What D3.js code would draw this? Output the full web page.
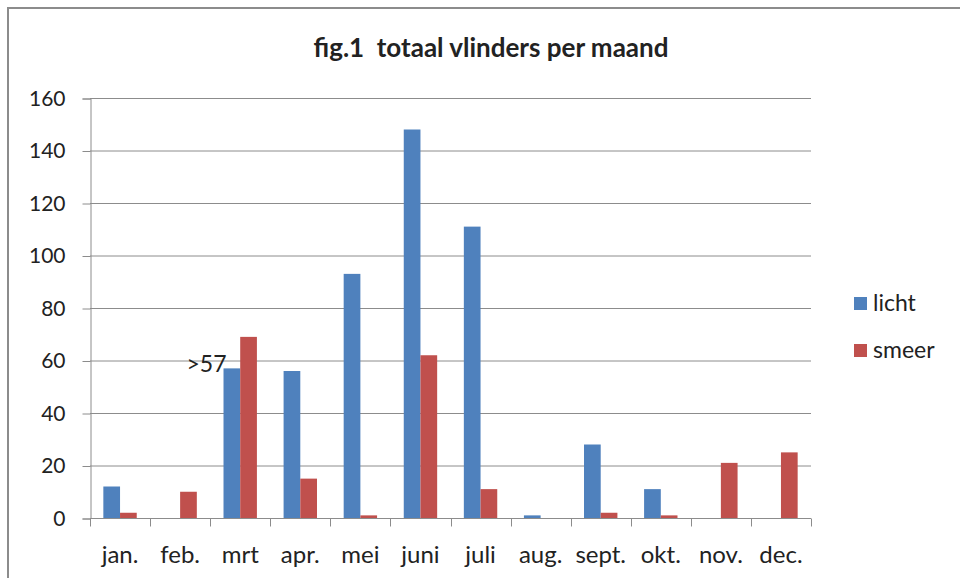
<!DOCTYPE html>
<html>
<head>
<meta charset="utf-8">
<script src="https://cdn.jsdelivr.net/npm/d3@7"></script>
<style>
  body { margin: 0; background: #fff; }
  text { font-family: Lato, "Open Sans", sans-serif; fill: #222; }
</style>
</head>
<body>
<div id="chart"></div>
<script>
(function() {

    // data
    let months = ["jan.", "feb.", "mrt", "apr.", "mei", "juni", "juli", "aug.", "sept.", "okt.", "nov.", "dec."];
    let licht = [12, 0, 57, 56, 93, 148, 111, 1, 28, 11, 0, 0];
    let smeer = [2, 10, 69, 15, 1, 62, 11, 0, 2, 1, 21, 25];
    let seriesNames = ["licht", "smeer"];
    let colors = ["#4F81BD", "#C0504D"];
    let yTicks = [0, 20, 40, 60, 80, 100, 120, 140, 160];

    let width = 960,
        height = 578;
    let plot = {left: 90, right: 811, top: 98, bottom: 518};

    let svg = d3.select("#chart")
        .append("svg")
        .attr("width", width)
        .attr("height", height);

    // outer border of the chart area (top + left visible)
    svg.append("path")
        .attr("d", `M8,${height} L8,8 L${width},8`)
        .attr("fill", "none")
        .attr("stroke", "#8c8c8c")
        .attr("stroke-width", 2);

    let x = d3.scaleBand()
        .domain(months)
        .range([plot.left, plot.right]);

    let bw = 16.7;
    let xs = d3.scaleBand()
        .domain(seriesNames)
        .range([x.bandwidth() / 2 - bw, x.bandwidth() / 2 + bw]);

    let y = d3.scaleLinear()
        .domain([0, 160])
        .range([plot.bottom, plot.top]);

    // gridlines
    svg.append("g")
        .selectAll("line")
        .data(yTicks.slice(1))
        .enter()
        .append("line")
        .attr("x1", plot.left)
        .attr("x2", plot.right)
        .attr("y1", d => y(d) + 0.5)
        .attr("y2", d => y(d) + 0.5)
        .attr("stroke", "#8c8c8c")
        .attr("stroke-width", 1);

    // y axis
    let yAxis = svg.append("g")
        .attr("transform", `translate(${plot.left + 0.5}, 0.5)`)
        .call(d3.axisLeft(y).tickValues(yTicks).tickSize(8).tickPadding(6));
    yAxis.select(".domain").attr("stroke", "#8c8c8c");
    yAxis.selectAll(".tick line").attr("stroke", "#8c8c8c");
    yAxis.selectAll(".tick text")
        .style("font-size", "21px")
        .attr("fill", "#222")
        .attr("x", -25);

    // bars
    let groups = svg.append("g")
        .selectAll("g")
        .data(months.map((m, i) => ({month: m, values: [licht[i], smeer[i]]})))
        .enter()
        .append("g")
        .attr("transform", d => `translate(${x(d.month)}, 0)`);

    groups.selectAll("rect")
        .data(d => d.values.map((v, j) => ({name: seriesNames[j], value: v, color: colors[j]})))
        .enter()
        .append("rect")
        .attr("x", d => xs(d.name))
        .attr("width", xs.bandwidth())
        .attr("y", d => y(d.value))
        .attr("height", d => y(0) - y(d.value))
        .attr("fill", d => d.color);

    // x axis with ticks between categories
    let xAxisG = svg.append("g")
        .attr("transform", `translate(0, ${plot.bottom + 0.5})`);
    xAxisG.append("line")
        .attr("x1", plot.left)
        .attr("x2", plot.right)
        .attr("stroke", "#8c8c8c");
    xAxisG.selectAll(".sep")
        .data(months.concat(["end"]))
        .enter()
        .append("line")
        .attr("x1", (d, i) => Math.round(plot.left + i * x.step()) + 0.5)
        .attr("x2", (d, i) => Math.round(plot.left + i * x.step()) + 0.5)
        .attr("y1", 0)
        .attr("y2", 8)
        .attr("stroke", "#8c8c8c");
    xAxisG.selectAll(".lbl")
        .data(months)
        .enter()
        .append("text")
        .attr("x", d => x(d) + x.bandwidth() / 2)
        .attr("y", 44)
        .attr("text-anchor", "middle")
        .style("font-size", "24px")
        .text(d => d);

    // annotation on the mrt bar
    svg.append("text")
        .attr("x", x("mrt") + xs("licht") + 3)
        .attr("y", y(57) + 4)
        .attr("text-anchor", "end")
        .style("font-size", "23px")
        .text(">57");

    // title
    svg.append("text")
        .attr("x", 491)
        .attr("y", 57)
        .attr("text-anchor", "middle")
        .style("font-size", "26px")
        .style("font-weight", "bold")
        .attr("xml:space", "preserve")
        .text("fig.1  totaal vlinders per maand");

    // legend
    let legend = svg.append("g")
        .selectAll("g")
        .data(seriesNames)
        .enter()
        .append("g")
        .attr("transform", (d, i) => `translate(854, ${297 + i * 47})`);
    legend.append("rect")
        .attr("width", 13)
        .attr("height", 13)
        .attr("fill", (d, i) => colors[i]);
    legend.append("text")
        .attr("x", 19)
        .attr("y", 14)
        .style("font-size", "23px")
        .text(d => d);

})();
</script>
</body>
</html>
